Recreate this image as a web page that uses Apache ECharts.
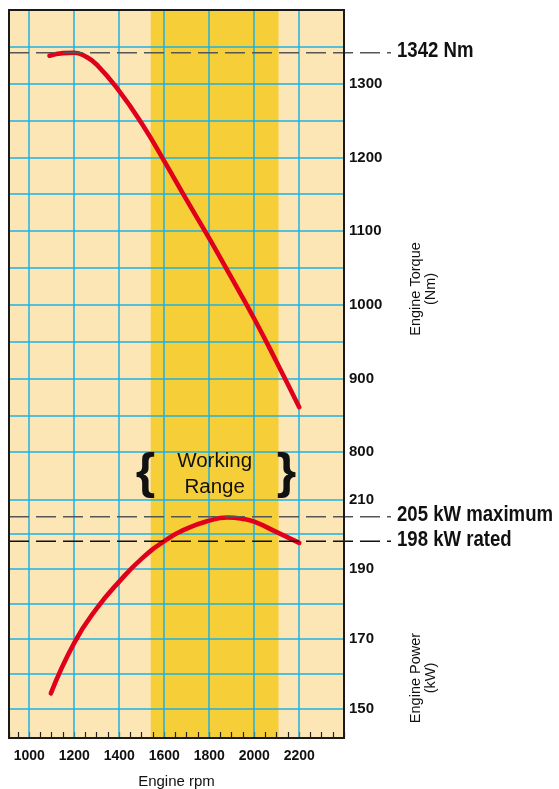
<!DOCTYPE html>
<html><head><meta charset="utf-8">
<script src="https://cdn.jsdelivr.net/npm/echarts@6/dist/echarts.min.js"></script>
<style>html,body{margin:0;padding:0;background:#fff}#c{width:559px;height:789px}</style>
</head><body><div id="c"></div>
<script>
// ---- data ----
const torqueRpm = [1090, 1150, 1200, 1250, 1300, 1400, 1500, 1600, 1700, 1800, 1900, 2000, 2100, 2200];
const torqueNm  = [1338, 1341.5, 1342, 1337, 1326, 1290, 1246, 1195, 1142, 1090, 1036, 981, 922, 861];
const powerRpm  = [1096, 1200, 1300, 1400, 1500, 1600, 1700, 1800, 1880, 1950, 2000, 2100, 2200];
const powerKw   = [154.3, 168.8, 178.7, 186.4, 193.0, 198.0, 201.6, 203.9, 204.8, 204.4, 203.6, 200.6, 197.5];
const rpmTickLabels = [1000, 1200, 1400, 1600, 1800, 2000, 2200];
const torqueTickLabels = [800, 900, 1000, 1100, 1200, 1300];
const powerTickLabels = [150, 170, 190, 210];
const rpmGridLines = [1000, 1200, 1400, 1600, 1800, 2000, 2200];
const torqueGridLines = [800, 850, 900, 950, 1000, 1050, 1100, 1150, 1200, 1250, 1300, 1350];
const powerGridLines = [150, 160, 170, 180, 190, 200, 210];
const workingRange = [1540, 2108];
const rpmRange = [910, 2399];
const torqueRange = [412, 1400];
const powerRange = [141.5, 350.5];
const peakTorque = 1342;
const maxPower = 205;
const ratedPower = 198;

// ---- layout / style ----
const G = {left: 9, top: 10, width: 335, height: 728};
const SANS = "'Liberation Sans', Arial, sans-serif";
const BG = '#fde6b6', BAND = '#f6ce38', GRIDC = '#1eb0e2', RED = '#e0001b';

const chart = echarts.init(document.getElementById('c'), null, {renderer: 'canvas'});

const gridLineStyle = {color: GRIDC, width: 1.5, type: 'solid'};
const yLabel = list => ({margin: 5, color: '#111', fontFamily: SANS, fontWeight: 'bold', fontSize: 15,
  padding: [0, 0, 9, 0], formatter: v => list.indexOf(v) >= 0 ? String(v) : ''});
const option = {
  animation: false,
  grid: {left: G.left, top: G.top, width: G.width, height: G.height, show: true,
         outerBoundsMode: 'none', containLabel: false,
         backgroundColor: BG, borderWidth: 0},
  xAxis: {
    type: 'value', min: rpmRange[0], max: rpmRange[1], minInterval: 50, maxInterval: 50, z: 4,
    axisLine: {show: false},
    axisTick: {show: true, inside: true, length: 6, lineStyle: {color: '#222', width: 1.2}},
    splitLine: {show: false},
    axisLabel: {margin: 11, color: '#111', fontFamily: SANS, fontWeight: 'bold', fontSize: 14,
      formatter: v => rpmTickLabels.indexOf(v) >= 0 ? String(v) : ''},
    name: 'Engine rpm', nameLocation: 'middle', nameGap: 36,
    nameTextStyle: {fontFamily: SANS, fontSize: 15, color: '#111'}
  },
  yAxis: [
    {type: 'value', position: 'right', min: torqueRange[0], max: torqueRange[1],
     minInterval: 100, maxInterval: 100,
     axisLine: {show: false}, axisTick: {show: false}, splitLine: {show: false},
     axisLabel: yLabel(torqueTickLabels)},
    {type: 'value', position: 'right', min: powerRange[0], max: powerRange[1],
     minInterval: 10, maxInterval: 10,
     axisLine: {show: false}, axisTick: {show: false}, splitLine: {show: false},
     axisLabel: yLabel(powerTickLabels)}
  ],
  series: [
    {type: 'line', name: 'band', data: [], z: 1, silent: true, yAxisIndex: 0,
     markArea: {silent: true, itemStyle: {color: BAND}, label: {show: false},
       data: [[{xAxis: workingRange[0]}, {xAxis: workingRange[1]}]]}},
    {type: 'line', name: 'gridT', data: [], z: 2, silent: true, yAxisIndex: 0,
     markLine: {silent: true, symbol: ['none', 'none'], label: {show: false}, lineStyle: gridLineStyle,
       emphasis: {disabled: true},
       data: rpmGridLines.map(v => ({xAxis: v})).concat(torqueGridLines.map(v => ({yAxis: v})))}},
    {type: 'line', name: 'gridP', data: [], z: 2, silent: true, yAxisIndex: 1,
     markLine: {silent: true, symbol: ['none', 'none'], label: {show: false}, lineStyle: gridLineStyle,
       emphasis: {disabled: true},
       data: powerGridLines.map(v => ({yAxis: v}))}},
    {type: 'line', name: 'Torque', yAxisIndex: 0, z: 5, smooth: 0.5, symbol: 'none',
     lineStyle: {color: RED, width: 4.6, cap: 'round', join: 'round'},
     data: torqueRpm.map((r, i) => [r, torqueNm[i]])},
    {type: 'line', name: 'Power', yAxisIndex: 1, z: 5, smooth: 0.5, symbol: 'none',
     lineStyle: {color: RED, width: 4.6, cap: 'round', join: 'round'},
     data: powerRpm.map((r, i) => [r, powerKw[i]])}
  ]
};
chart.setOption(option);

// ---- annotations (positions derived through the axes) ----
const yT = v => chart.convertToPixel({yAxisIndex: 0}, v);
const yP = v => chart.convertToPixel({yAxisIndex: 1}, v);
const xR = v => chart.convertToPixel({xAxisIndex: 0}, v);
const lineEnd = 391, labelX = 397;
function dashLine(y, color) {
  return {type: 'line', z: 50, silent: true,
    shape: {x1: G.left, y1: y, x2: lineEnd, y2: y},
    style: {stroke: color, lineWidth: 1.5, lineDash: [20, 7]}};
}
function refText(y, text) {
  return {type: 'text', z: 50, silent: true, x: labelX, y: y - 1.5, scaleX: 0.845,
    style: {text: text, fill: '#111', font: 'bold 22px ' + SANS, textAlign: 'left', textVerticalAlign: 'middle'}};
}
const bandMid = xR((workingRange[0] + workingRange[1]) / 2);
const graphics = [
  {type: 'rect', z: 60, silent: true, shape: {x: G.left, y: G.top, width: G.width, height: G.height},
   style: {fill: 'none', stroke: '#1a1a1a', lineWidth: 2}},
  dashLine(yT(peakTorque), '#555'),
  dashLine(yP(maxPower), '#555'),
  dashLine(yP(ratedPower), '#111'),
  refText(yT(peakTorque), '1342 Nm'),
  refText(yP(maxPower), '205 kW maximum'),
  refText(yP(ratedPower), '198 kW rated'),
  {type: 'text', z: 50, silent: true, x: bandMid, y: 474,
   style: {text: 'Working\nRange', fill: '#111', font: '20.5px ' + SANS, lineHeight: 26,
           textAlign: 'center', textVerticalAlign: 'middle'}},
  {type: 'text', z: 50, silent: true, x: 145.5, y: 474,
   style: {text: '{', fill: '#111', font: 'bold 50px ' + SANS, textAlign: 'center', textVerticalAlign: 'middle'}},
  {type: 'text', z: 50, silent: true, x: 286.5, y: 474,
   style: {text: '}', fill: '#111', font: 'bold 50px ' + SANS, textAlign: 'center', textVerticalAlign: 'middle'}},
  {type: 'text', z: 50, silent: true, x: 423, y: 289, rotation: Math.PI / 2,
   style: {text: 'Engine Torque\n(Nm)', fill: '#111', font: '14.5px ' + SANS, lineHeight: 15,
           textAlign: 'center', textVerticalAlign: 'middle'}},
  {type: 'text', z: 50, silent: true, x: 423, y: 678, rotation: Math.PI / 2,
   style: {text: 'Engine Power\n(kW)', fill: '#111', font: '14.5px ' + SANS, lineHeight: 15,
           textAlign: 'center', textVerticalAlign: 'middle'}}
];
chart.setOption({graphic: graphics});
</script></body></html>
